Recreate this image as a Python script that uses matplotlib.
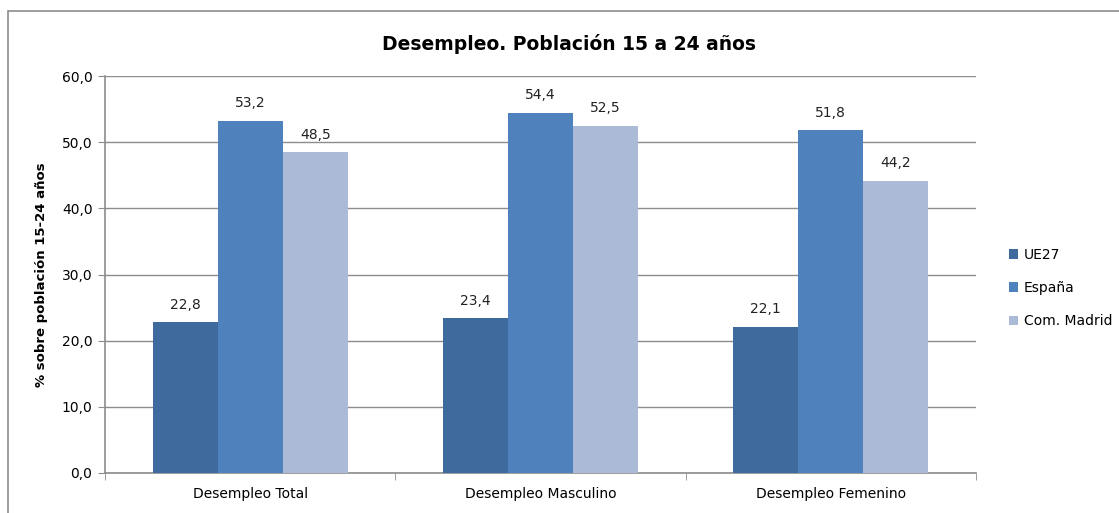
import numpy as np
import matplotlib.pyplot as plt
from matplotlib.patches import Rectangle

categories = ['Desempleo Total', 'Desempleo Masculino', 'Desempleo Femenino']
series = ['UE27', 'España', 'Com. Madrid']
ue27 = [22.8, 23.4, 22.1]
espana = [53.2, 54.4, 51.8]
madrid = [48.5, 52.5, 44.2]
colors = ['#3F6A9D', '#4F81BD', '#AABAD7']

fig = plt.figure(figsize=(11.19, 5.13), dpi=100)
ax = fig.add_axes([105 / 1119, 1 - 473 / 513, (976 - 105) / 1119, (473 - 76) / 513])

x = np.arange(len(categories))
w = 0.224
for i, (vals, name) in enumerate(zip([ue27, espana, madrid], series)):
    pos = x + (i - 1) * w
    ax.bar(pos, vals, width=w, color=colors[i], label=name, zorder=3)
    for p, v in zip(pos, vals):
        ax.text(p, v + 1.6, f'{v:.1f}'.replace('.', ','), ha='center', va='bottom',
                fontsize=10, color='#222222')

ax.set_xlim(-0.5, 2.5)
ax.set_ylim(0, 60)
ax.set_yticks(np.arange(0, 61, 10))
ax.set_yticklabels([f'{t:.1f}'.replace('.', ',') for t in np.arange(0, 61, 10)], fontsize=10)
ax.yaxis.grid(True, color='#8c8c8c', linewidth=1, zorder=0)
ax.set_xticks(x)
ax.set_xticklabels(categories, fontsize=10)
ax.set_xticks([-0.5, 0.5, 1.5, 2.5], minor=True)
ax.tick_params(axis='x', which='major', length=0, pad=10)
ax.tick_params(axis='x', which='minor', length=5, color='#8c8c8c')
ax.tick_params(axis='y', length=5, color='#8c8c8c', pad=4)
for s in ['top', 'right']:
    ax.spines[s].set_visible(False)
for s in ['left', 'bottom']:
    ax.spines[s].set_color('#8c8c8c')
    ax.spines[s].set_linewidth(1.2)

ax.set_ylabel('% sobre población 15-24 años', fontsize=9.5, fontweight='bold', labelpad=10)

fig.text(569 / 1119, 1 - 44 / 513, 'Desempleo. Población 15 a 24 años', ha='center', va='center',
         fontsize=13.5, fontweight='bold')

ax.legend(loc='center left', bbox_to_anchor=(1003 / 1119, 1 - 288 / 513), bbox_transform=fig.transFigure,
          frameon=False, fontsize=10, handlelength=0.7, handleheight=0.7, handletextpad=0.4,
          labelspacing=1.4, borderaxespad=0)

# outer chart border
fig.patches.append(Rectangle((8 / 1119, -0.05), 1.1, 1 - 11 / 513 + 0.05, transform=fig.transFigure,
                             fill=False, edgecolor='#8c8c8c', linewidth=1.2))

fig.savefig('out.png', dpi=100)
